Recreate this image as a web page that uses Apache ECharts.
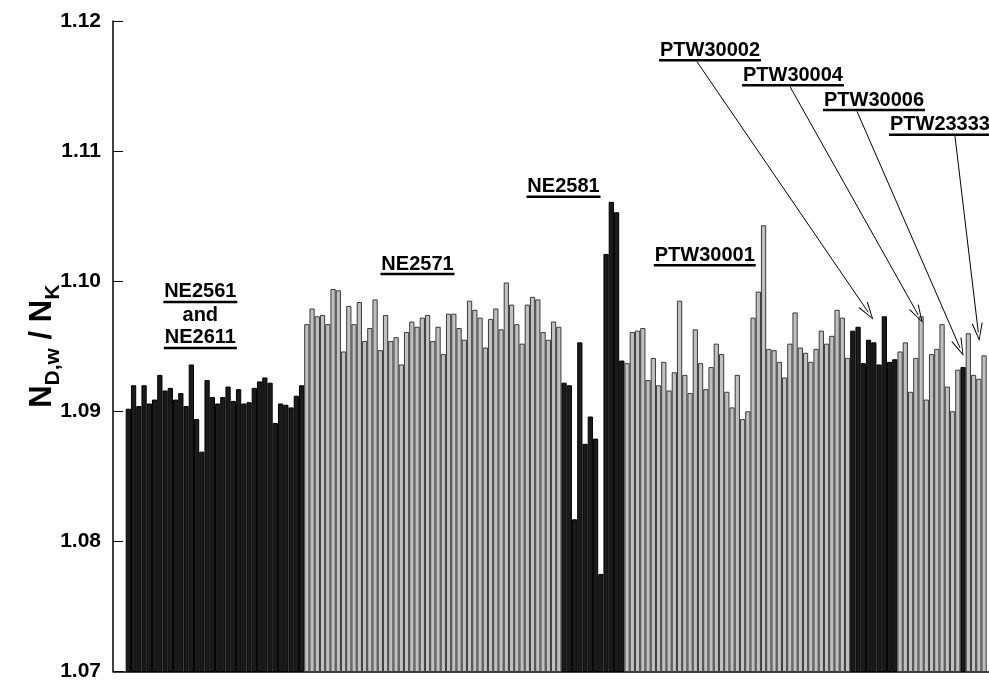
<!DOCTYPE html>
<html><head><meta charset="utf-8">
<script src="https://cdn.jsdelivr.net/npm/echarts@6/dist/echarts.min.js"></script>
<style>html,body{margin:0;padding:0;background:#fff}#c{width:989px;height:682px}</style>
</head><body><div id="c"></div>
<script>
// ---- data ----
const ne2561_ne2611 = [1.0902,1.0920,1.0904,1.0920,1.0906,1.0909,1.0928,1.0916,1.0918,1.0909,1.0914,1.0904,1.0936,1.0894,1.0869,1.0924,1.0911,1.0906,1.0911,1.0919,1.0908,1.0917,1.0906,1.0907,1.0918,1.0923,1.0926,1.0922,1.0891,1.0906,1.0905,1.0903,1.0912,1.0920];
const ne2571 = [1.0967,1.0979,1.0973,1.0974,1.0967,1.0994,1.0993,1.0946,1.0981,1.0967,1.0984,1.0954,1.0964,1.0986,1.0947,1.0974,1.0954,1.0957,1.0936,1.0961,1.0969,1.0965,1.0972,1.0974,1.0954,1.0965,1.0944,1.0975,1.0975,1.0964,1.0955,1.0985,1.0978,1.0972,1.0949,1.0971,1.0979,1.0963,1.0999,1.0982,1.0967,1.0952,1.0982,1.0988,1.0986,1.0961,1.0955,1.0969,1.0965];
const ne2581 = [1.0922,1.0920,1.0817,1.0953,1.0875,1.0896,1.0879,1.0775,1.1021,1.1061,1.1053,1.0939];
const ptw30001 = [1.0937,1.0961,1.0962,1.0964,1.0924,1.0941,1.0920,1.0938,1.0916,1.0930,1.0985,1.0928,1.0914,1.0963,1.0937,1.0917,1.0934,1.0952,1.0944,1.0915,1.0903,1.0928,1.0894,1.0900,1.0972,1.0992,1.1043,1.0948,1.0947,1.0938,1.0926,1.0952,1.0976,1.0949,1.0945,1.0938,1.0948,1.0962,1.0952,1.0958,1.0978,1.0972,1.0941];
const ptw30002 = [1.0962,1.0965,1.0937,1.0955,1.0953,1.0936,1.0973,1.0938,1.0940];
const ptw30004 = [1.0946,1.0953,1.0915,1.0941,1.0973,1.0909,1.0944,1.0948,1.0967,1.0919,1.0900,1.0932];
const ptw30006 = [1.0934];
const ptw23333 = [1.0960,1.0928,1.0925,1.0943];
const groupValues = [ne2561_ne2611, ne2571, ne2581, ptw30001, ptw30002, ptw30004, ptw30006, ptw23333];
const groupShade  = ['dark','light','dark','light','dark','light','dark','light'];

const yTicks = ['1.07','1.08','1.09','1.10','1.11','1.12'];

// annotation texts and anchors (data coordinates)
const labelLines = [
  [['NE2561',true],['and',false],['NE2611',true]],
  [['NE2571',true]],
  [['NE2581',true]],
  [['PTW30001',true]],
  [['PTW30002',true]],
  [['PTW30004',true]],
  [['PTW30006',true]],
  [['PTW23333',true]]
];
const labelAnchors = [[13.71,1.09733],[55.08,1.10124],[82.89,1.10718],[109.8,1.10191],[110.8,1.11767],[126.6,1.11576],[142.03,1.11385],[154.6,1.11195]];
const arrowFrom = [[108.32,1.11687],[126.03,1.11496],[138.8,1.11305],[157.46,1.11115]];
const arrowTo   = [[140.95,1.09761],[150.47,1.0974],[158.41,1.09489],[161.9,1.09608]];

// ---- styles ----
const FONT = '"Liberation Sans", Arial, Helvetica, sans-serif';
const shadeStyle = {
  dark:  {color:'#1b1b1b', borderColor:'#000000', borderWidth:1},
  light: {color:'#c0c0c0', borderColor:'#3a3a3a', borderWidth:1}
};

const data = [];
let idx = 0;
groupValues.forEach((arr, g) => {
  arr.forEach(v => { data.push({value:[idx, v], itemStyle: shadeStyle[groupShade[g]]}); idx++; });
});

const cv = document.createElement('canvas').getContext('2d');
cv.font = 'bold 20px ' + FONT;
function tw(s){ return Math.round(cv.measureText(s).width); }

const markPoints = labelLines.map((lines, i) => {
  const rich = {
    t: {fontSize:20, fontWeight:'bold', fontFamily:FONT, color:'#000', lineHeight:18},
    a: {fontSize:20, fontWeight:'bold', fontFamily:FONT, color:'#000', lineHeight:26}
  };
  const parts = [];
  lines.forEach((ln, j) => {
    parts.push((ln[1] ? '{t|' : '{a|') + ln[0] + '}');
    if (ln[1]) {
      rich['u' + j] = {width: tw(ln[0]) + 2, height: 2.5, lineHeight: 2, backgroundColor:'#000'};
      parts.push('{u' + j + '| }');
    }
  });
  return {
    coord: labelAnchors[i], symbol:'circle', symbolSize:0,
    label: {show:true, position:'inside', formatter: parts.join('\n'), rich: rich}
  };
});

const chevron = 'path://M5,0L10,16L9,16L5,2.5L1,16L0,16Z';
const markLines = arrowFrom.map((f, i) => [
  {coord: f, symbol:'none'},
  {coord: arrowTo[i], symbol: chevron, symbolSize:[11,18]}
]);

const chart = echarts.init(document.getElementById('c'), null, {renderer:'canvas'});
chart.setOption({
  animation:false,
  backgroundColor:'#fff',
  grid:{left:113, right:0, top:21, bottom:6},
  xAxis:{
    type:'value', min:-2.92, max:163.94,
    axisLine:{show:true, onZero:false, lineStyle:{color:'#000', width:1.5}},
    axisTick:{show:false}, axisLabel:{show:false}, splitLine:{show:false}
  },
  yAxis:{
    type:'value', min:1.07, max:1.12, interval:0.01,
    name:'{n|N}{s|D,w}{n| / N}{s|K}',
    nameLocation:'middle', nameGap:53, nameMoveOverlap:false,
    nameTextStyle:{
      rich:{
        n:{fontSize:31, fontWeight:'bold', fontFamily:FONT, color:'#000', lineHeight:36},
        s:{fontSize:21, fontWeight:'bold', fontFamily:FONT, color:'#000', lineHeight:36, verticalAlign:'bottom', padding:[0,0,-4,0]}
      }
    },
    axisLine:{show:true, onZero:false, lineStyle:{color:'#000', width:1.5}},
    axisTick:{show:true, inside:true, length:10, lineStyle:{color:'#000', width:1}},
    axisLabel:{margin:12, fontSize:21, fontWeight:'bold', fontFamily:FONT, color:'#000',
      formatter: v => yTicks.find(t => Math.abs(parseFloat(t) - v) < 1e-6) || ''},
    splitLine:{show:false}
  },
  series:[{
    type:'bar', data:data, barWidth:5.25, clip:true,
    markPoint:{silent:true, data:markPoints},
    markLine:{silent:true, symbol:['none','none'], label:{show:false},
      lineStyle:{color:'#000', width:1, type:'solid'}, data:markLines}
  }]
});
</script>
</body></html>
